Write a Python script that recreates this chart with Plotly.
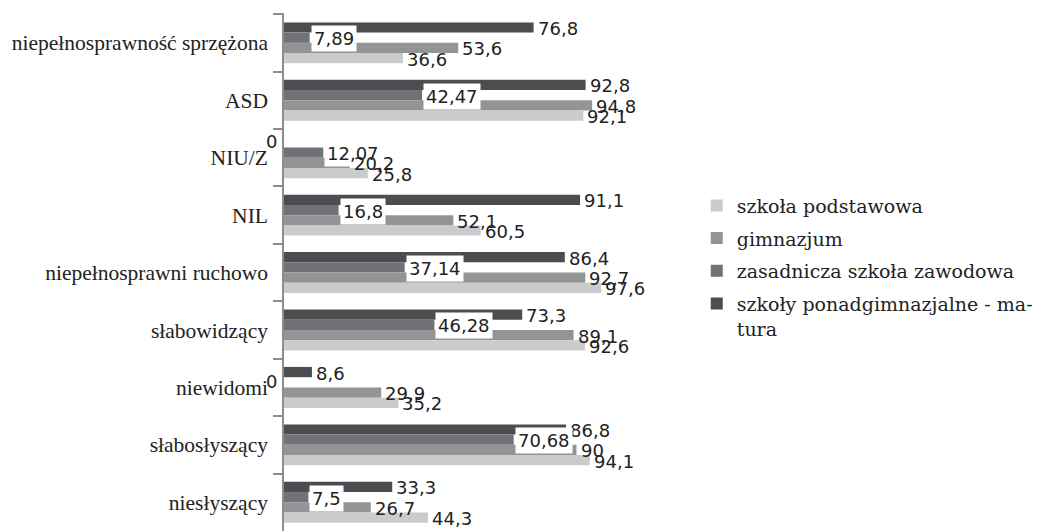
import plotly.graph_objects as go

categories = [
    "niepełnosprawność sprzężona", "ASD", "NIU/Z", "NIL",
    "niepełnosprawni ruchowo", "słabowidzący", "niewidomi",
    "słabosłyszący", "niesłyszący",
]
matura = [76.8, 92.8, 0, 91.1, 86.4, 73.3, 8.6, 86.8, 33.3]
zasadnicza = [7.89, 42.47, 12.07, 16.8, 37.14, 46.28, 0, 70.68, 7.5]
gimnazjum = [53.6, 94.8, 20.2, 52.1, 92.7, 89.1, 29.9, 90, 26.7]
podstawowa = [36.6, 92.1, 25.8, 60.5, 97.6, 92.6, 35.2, 94.1, 44.3]

series = [
    ("szkoły ponadgimnazjalne - ma-<br>tura", matura, "#4b4d50"),
    ("zasadnicza szkoła zawodowa", zasadnicza, "#717275"),
    ("gimnazjum", gimnazjum, "#939496"),
    ("szkoła podstawowa", podstawowa, "#cacbcd"),
]

BARGAP = 0.287
n = len(series)
w = (1 - BARGAP) / n

fig = go.Figure()
annotations = []
for k, (name, vals, color) in enumerate(series):
    fig.add_trace(go.Bar(
        y=categories, x=vals, name=name, orientation="h",
        marker=dict(color=color, line=dict(width=0)),
        legendgroup=f"g{k}", legendrank=n - k, hoverinfo="skip",
    ))
    for i, v in enumerate(vals):
        label = ("%g" % v).replace(".", ",")
        ypos = i + (k - (n - 1) / 2) * w
        if v == 0:
            annotations.append(dict(
                x=0, y=ypos, xref="x", yref="y", text=label, showarrow=False,
                xanchor="right", xshift=-5, yshift=1,
                font=dict(family="DejaVu Sans", size=18, color="#222"),
            ))
        else:
            annotations.append(dict(
                x=v, y=ypos, xref="x", yref="y", text=label, showarrow=False,
                xanchor="left", xshift=1, yshift=-1, borderpad=2,
                bgcolor="white" if k == 1 else "rgba(0,0,0,0)",
                font=dict(family="DejaVu Sans", size=18, color="#222"),
            ))

fig.update_layout(
    width=1038, height=531,
    margin=dict(l=284, r=427, t=13, b=0),
    paper_bgcolor="white", plot_bgcolor="white",
    barmode="group", bargap=BARGAP, bargroupgap=0,
    showlegend=True,
    legend=dict(
        x=1.27, y=0.665, xanchor="left", yanchor="top",
        traceorder="grouped", tracegroupgap=5, valign="top",
        font=dict(family="DejaVu Serif", size=19, color="#222"),
        bgcolor="rgba(0,0,0,0)",
    ),
    annotations=annotations,
    xaxis=dict(range=[0, 100], visible=False, showgrid=False, zeroline=False),
    yaxis=dict(
        type="category", autorange="reversed",
        showline=True, linecolor="#8c8c8c", linewidth=1.5,
        ticks="outside", ticklen=9, tickcolor="#8c8c8c", tickwidth=1.5,
        tickson="boundaries", showgrid=False, zeroline=False,
        ticklabelstandoff=10,
        tickfont=dict(family="Liberation Serif", size=21.5, color="#222"),
    ),
)

fig.write_html("out.html")
